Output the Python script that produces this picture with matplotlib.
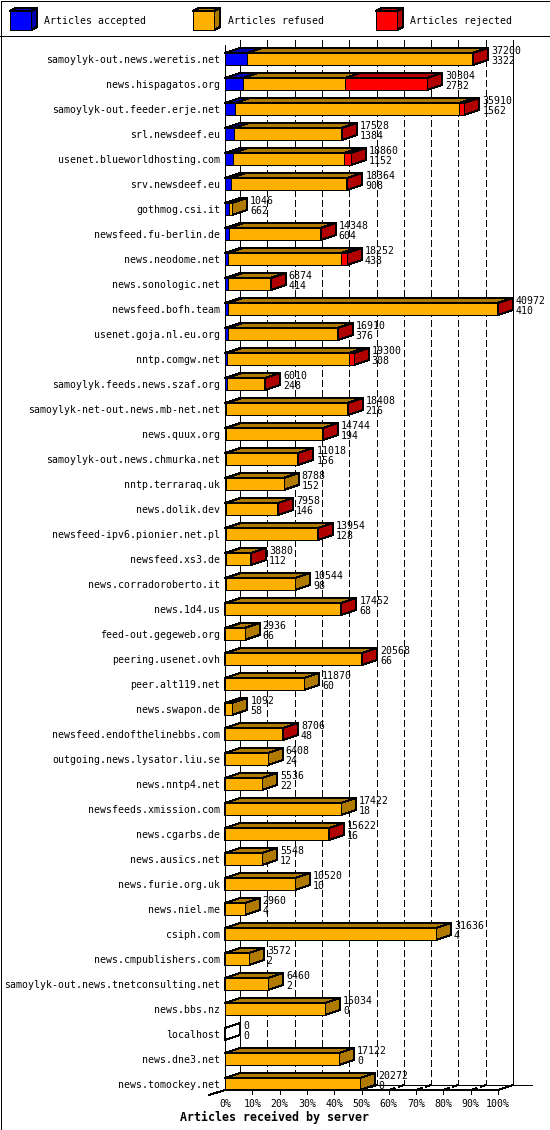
import matplotlib
matplotlib.use("Agg")
import matplotlib.pyplot as plt
from matplotlib.patches import Polygon, Rectangle

# Articles received by server (innreport style 3d stacked bars)
servers = [
    "samoylyk-out.news.weretis.net", "news.hispagatos.org", "samoylyk-out.feeder.erje.net",
    "srl.newsdeef.eu", "usenet.blueworldhosting.com", "srv.newsdeef.eu", "gothmog.csi.it",
    "newsfeed.fu-berlin.de", "news.neodome.net", "news.sonologic.net", "newsfeed.bofh.team",
    "usenet.goja.nl.eu.org", "nntp.comgw.net", "samoylyk.feeds.news.szaf.org",
    "samoylyk-net-out.news.mb-net.net", "news.quux.org", "samoylyk-out.news.chmurka.net",
    "nntp.terraraq.uk", "news.dolik.dev", "newsfeed-ipv6.pionier.net.pl", "newsfeed.xs3.de",
    "news.corradoroberto.it", "news.1d4.us", "feed-out.gegeweb.org", "peering.usenet.ovh",
    "peer.alt119.net", "news.swapon.de", "newsfeed.endofthelinebbs.com",
    "outgoing.news.lysator.liu.se", "news.nntp4.net", "newsfeeds.xmission.com", "news.cgarbs.de",
    "news.ausics.net", "news.furie.org.uk", "news.niel.me", "csiph.com", "news.cmpublishers.com",
    "samoylyk-out.news.tnetconsulting.net", "news.bbs.nz", "localhost", "news.dne3.net",
    "news.tomockey.net",
]
accepted = [3322, 2732, 1562, 1384, 1152, 908, 662, 604, 438, 414, 410, 376, 308, 248, 216,
            194, 156, 152, 146, 128, 112, 98, 68, 66, 66, 60, 58, 48, 24, 22, 18, 16, 12, 10,
            4, 4, 2, 2, 0, 0, 0, 0]
refused = [33758, 15222, 33598, 16084, 16758, 17376, 384, 13684, 16964, 6420, 40462, 16484,
           18292, 5732, 18132, 14510, 10832, 8636, 7782, 13786, 3748, 10446, 17324, 2870,
           20452, 11810, 1034, 8628, 6384, 5514, 17404, 15566, 5536, 10510, 2956, 31632, 3570,
           6458, 15034, 0, 17122, 20272]
rejected = [120, 12350, 750, 60, 950, 80, 0, 60, 850, 40, 100, 50, 700, 30, 60, 40, 30, 0, 30,
            40, 20, 0, 60, 0, 50, 0, 0, 30, 0, 0, 0, 40, 0, 0, 0, 0, 0, 0, 0, 0, 0, 0]

series_names = ["Articles accepted", "Articles refused", "Articles rejected"]
front_colors = ["#0000ff", "#ffb000", "#ff0000"]
shade_colors = ["#0000b0", "#b07900", "#b00000"]
tick_labels = ["%d%%" % p for p in range(0, 101, 10)]
x_title = "Articles received by server"

W, H = 550, 1130
FONT = "DejaVu Sans Mono"
FS = 7.15
LW = 0.72  # one pixel

fig = plt.figure(figsize=(W / 100, H / 100), dpi=100)

# pixel layer: frame and legend
deco = fig.add_axes([0, 0, 1, 1])
deco.set_xlim(0, W)
deco.set_ylim(H, 0)
deco.axis("off")
deco.add_patch(Rectangle((0.5, 0.5), W - 1, H - 1, fill=False, lw=LW, ec="black",
                         antialiased=False))
deco.plot([0, W], [35.5, 35.5], color="black", lw=LW, antialiased=False)

legend_x = [10, 193, 376]
for lx, name, fc, sc in zip(legend_x, series_names, front_colors, shade_colors):
    deco.add_patch(Polygon([(lx, 11), (lx + 6, 8), (lx + 27, 8), (lx + 21, 11)],
                           fc=sc, ec="black", lw=LW, antialiased=False))
    deco.add_patch(Polygon([(lx + 21, 11), (lx + 27, 8), (lx + 27, 27), (lx + 21, 30)],
                           fc=sc, ec="black", lw=LW, antialiased=False))
    deco.add_patch(Rectangle((lx, 11), 21, 19, fc=fc, ec="black", lw=LW, antialiased=False))
    deco.text(lx + 34.5, 24.5, name, family=FONT, fontsize=FS, va="baseline")

deco.text(W / 2, 1121, x_title, family=FONT, fontsize=8.4, weight="bold",
          ha="center", va="baseline")

# data layer
totals = [a + r + j for a, r, j in zip(accepted, refused, rejected)]
xmax = max(totals)
px = 273.0 / xmax          # pixels per article
row = 25.0                 # pixels per row
DX = 15 / px               # depth, right
DY = 5 / row               # depth, up
HALF = 6 / row

ax = fig.add_axes([0, 0, 1, 1])
ax.set_xlim(-225 / px, (W - 225) / px)
ax.set_ylim((H - 59) / row, -59 / row)
ax.axis("off")

n = len(servers)
top_y = -19 / row          # back wall top (pixel 40)
back_y = (n - 1) + 1 / row  # floor back edge (pixel 1085)
front_y = (n - 1) + HALF    # floor front edge (pixel 1090)

dash = (0, (6, 4))
grid_x = [xmax * k / 10 for k in range(1, 10)]
ax.vlines([g + DX for g in grid_x], top_y, back_y, colors="black", lw=LW,
          linestyles=dash, zorder=1, antialiased=False)
for g in grid_x:
    ax.plot([g, g + DX], [front_y, back_y], color="black", lw=LW, ls=dash, zorder=1,
            antialiased=False)

# walls and floor
ax.plot([DX, DX], [top_y, back_y], color="black", lw=LW, zorder=1, antialiased=False)
ax.plot([xmax + DX, xmax + DX], [top_y, back_y], color="black", lw=LW, zorder=1,
        antialiased=False)
ax.plot([0, 0], [top_y + DY, front_y], color="black", lw=LW, zorder=1, antialiased=False)
ax.plot([DX, xmax + DX + 19 / px], [back_y, back_y], color="black", lw=LW, zorder=1,
        antialiased=False)
ax.plot([0, xmax, xmax + DX], [front_y, front_y, back_y], color="black", lw=LW, zorder=6,
        antialiased=False)
ax.plot([-16 / px, 0], [front_y + DY, front_y], color="black", lw=LW, zorder=6,
        antialiased=False)

tick_x = [xmax * k / 10 for k in range(0, 11)]
ax.vlines(tick_x[1:], front_y, front_y + 4 / row, colors="black", lw=LW, zorder=6,
          antialiased=False)
for tx, tl in zip(tick_x, tick_labels):
    ax.text(tx, front_y + 17 / row, tl, family=FONT, fontsize=FS, ha="center", va="baseline")

# bars: front, top and side faces per segment, drawn left to right
for i in range(n):
    left = 0
    segs = [accepted[i], refused[i], rejected[i]]
    for k, v in enumerate(segs):
        if v <= 0:
            continue
        r = left + v
        z = 2 + k
        ax.add_patch(Polygon([(left, i - HALF), (left + DX, i - HALF - DY),
                              (r + DX, i - HALF - DY), (r, i - HALF)],
                             fc=shade_colors[k], ec="black", lw=LW, zorder=z,
                             antialiased=False))
        ax.add_patch(Polygon([(r, i - HALF), (r + DX, i - HALF - DY),
                              (r + DX, i + HALF - DY), (r, i + HALF)],
                             fc=shade_colors[k], ec="black", lw=LW, zorder=z,
                             antialiased=False))
        ax.barh(i, v, left=left, height=2 * HALF, color=front_colors[k], edgecolor="black",
                linewidth=LW, zorder=z, antialiased=False)
        left = r
    if totals[i] == 0:
        ax.add_patch(Polygon([(0, i - HALF), (DX, i - HALF - DY), (DX, i + HALF - DY),
                              (0, i + HALF)], fill=False, ec="black", lw=LW, zorder=2,
                             antialiased=False))

    lx = totals[i] + DX + 3 / px
    ax.text(lx, i - 5.4 / row, str(totals[i]), family=FONT, fontsize=FS, va="baseline",
            zorder=7)
    ax.text(lx, i + 5.2 / row, str(accepted[i]), family=FONT, fontsize=FS, va="baseline",
            zorder=7)
    ax.text(-5 / px, i + 3.6 / row, servers[i], family=FONT, fontsize=FS, ha="right",
            va="baseline", zorder=7)

fig.savefig("out.png", dpi=100)
